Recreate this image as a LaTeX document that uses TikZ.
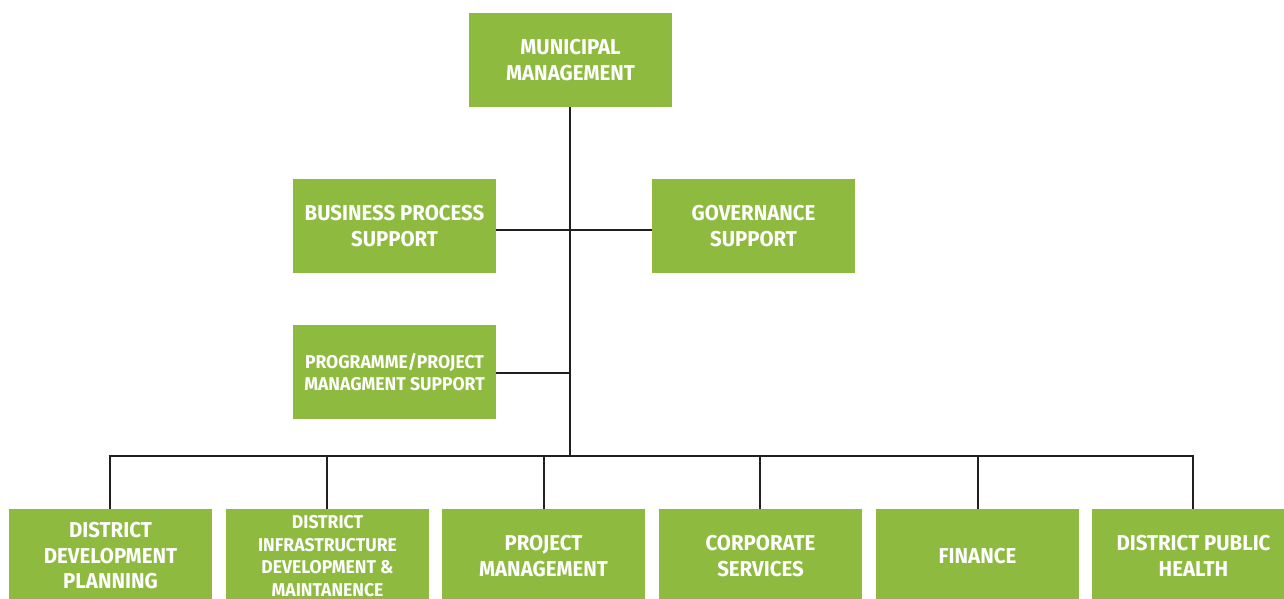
\documentclass[tikz,border=0pt]{standalone}
\usepackage{fontspec}
\setmainfont[FakeStretch=0.95]{Fira Sans}
\begin{document}
\begin{tikzpicture}[x=1pt,y=-1pt,
  unit/.style={fill=unitgreen, minimum width=203pt, minimum height=94pt,
    inner sep=0pt, align=center, text=white,
    font=\bfseries\fontsize{21.5}{25.5}\selectfont},
  smallunit/.style={unit, font=\bfseries\fontsize{18.5}{22.5}\selectfont},
  link/.style={draw=linkgray, line width=2.6pt}]
\definecolor{unitgreen}{HTML}{8DBA3F}
\definecolor{linkgray}{HTML}{231F20}
\useasboundingbox (0,0) rectangle (1284,599);
\clip (0,0) rectangle (1284,599);

% management and support units
\node[unit] (mm)  at (570.5,60)  {MUNICIPAL\\MANAGEMENT};
\node[unit] (bps) at (394.5,226) {BUSINESS PROCESS\\SUPPORT};
\node[unit] (gov) at (753.5,226) {GOVERNANCE\\SUPPORT};
\node[smallunit] (pms) at (394.5,372) {PROGRAMME/PROJECT\\MANAGMENT SUPPORT};

% departments
\node[unit] (ddp) at (110.5,556) {DISTRICT\\DEVELOPMENT\\PLANNING};
\node[smallunit] (did) at (327.5,556) {DISTRICT\\INFRASTRUCTURE\\DEVELOPMENT \&\\MAINTANENCE};
\node[unit] (pm)  at (543.5,556) {PROJECT\\MANAGEMENT};
\node[unit] (cs)  at (760.5,556) {CORPORATE\\SERVICES};
\node[unit] (fin) at (977.5,556) {FINANCE};
\node[unit] (dph) at (1193.5,556) {DISTRICT PUBLIC\\HEALTH};

% trunk and bus
\coordinate (hub) at (570,456);
\coordinate (sup) at (570,230);
\coordinate (prg) at (570,373);
\coordinate (busL) at (110,456);
\coordinate (busR) at (1193,456);

\draw[link] (mm.south -| hub) -- (hub);
\draw[link] (bps.east |- sup) -- (gov.west |- sup);
\draw[link] (pms.east |- prg) -- (prg);
\draw[link] ([xshift=-1.3pt]busL) -- ([xshift=1.3pt]busR);
\foreach \d/\x in {ddp/110, did/327, pm/544, cs/760, fin/978, dph/1193}
  \draw[link] (\x,456) -- (\d.north -| \x,0);
\end{tikzpicture}
\end{document}
